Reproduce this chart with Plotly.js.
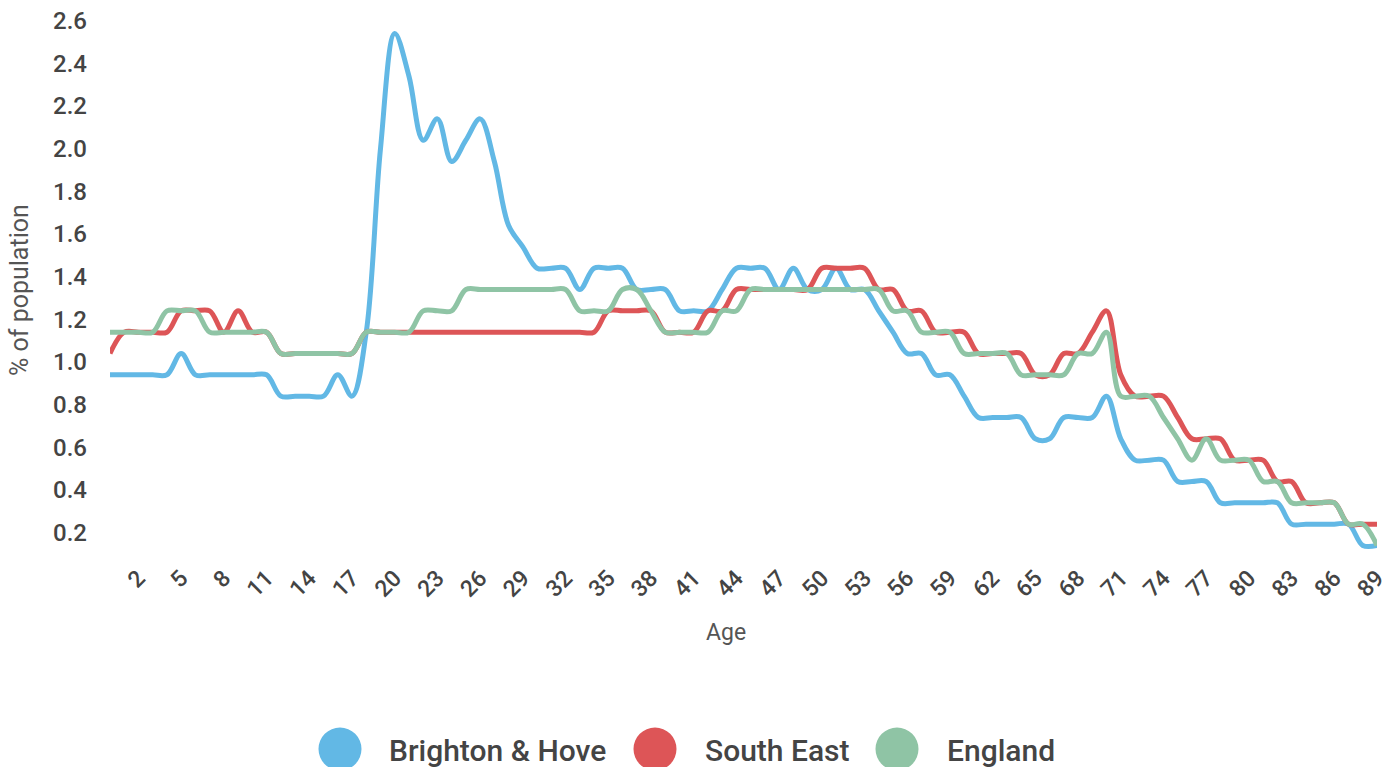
<!DOCTYPE html>
<html>
<head>
<meta charset="utf-8">
<script src="https://cdn.plot.ly/plotly-3.0.1.min.js"></script>
<style>
  html, body { margin: 0; padding: 0; background: #ffffff; }
  #chart { width: 1399px; height: 767px; }
</style>
</head>
<body>
<div id="chart"></div>
<script>
// Ages 0..89
const ages = Array.from({length: 90}, (_, i) => i);

const seriesNames = ["Brighton & Hove", "South East", "England"];
const seriesColors = ["#62b8e5", "#dd5557", "#8fc4a5"];

const brightonHove = [
  0.94, 0.94, 0.94, 0.94, 0.94, 1.04, 0.94, 0.94, 0.94, 0.94,
  0.94, 0.94, 0.84, 0.84, 0.84, 0.84, 0.94, 0.84, 1.14, 2.00,
  2.54, 2.34, 2.04, 2.14, 1.94, 2.04, 2.14, 1.94, 1.64, 1.54,
  1.44, 1.44, 1.44, 1.34, 1.44, 1.44, 1.44, 1.34, 1.34, 1.34,
  1.24, 1.24, 1.24, 1.34, 1.44, 1.44, 1.44, 1.34, 1.44, 1.34,
  1.34, 1.44, 1.34, 1.34, 1.24, 1.14, 1.04, 1.04, 0.94, 0.94,
  0.84, 0.74, 0.74, 0.74, 0.74, 0.64, 0.64, 0.74, 0.74, 0.74,
  0.84, 0.64, 0.54, 0.54, 0.54, 0.44, 0.44, 0.44, 0.34, 0.34,
  0.34, 0.34, 0.34, 0.24, 0.24, 0.24, 0.24, 0.24, 0.14, 0.14
];

const southEast = [
  1.04, 1.14, 1.14, 1.14, 1.14, 1.24, 1.24, 1.24, 1.14, 1.24,
  1.14, 1.14, 1.04, 1.04, 1.04, 1.04, 1.04, 1.04, 1.14, 1.14,
  1.14, 1.14, 1.14, 1.14, 1.14, 1.14, 1.14, 1.14, 1.14, 1.14,
  1.14, 1.14, 1.14, 1.14, 1.14, 1.24, 1.24, 1.24, 1.24, 1.14,
  1.14, 1.14, 1.24, 1.24, 1.34, 1.34, 1.34, 1.34, 1.34, 1.34,
  1.44, 1.44, 1.44, 1.44, 1.34, 1.34, 1.24, 1.24, 1.14, 1.14,
  1.14, 1.04, 1.04, 1.04, 1.04, 0.94, 0.94, 1.04, 1.04, 1.14,
  1.24, 0.94, 0.84, 0.84, 0.84, 0.74, 0.64, 0.64, 0.64, 0.54,
  0.54, 0.54, 0.44, 0.44, 0.34, 0.34, 0.34, 0.24, 0.24, 0.24
];

const england = [
  1.14, 1.14, 1.14, 1.14, 1.24, 1.24, 1.24, 1.14, 1.14, 1.14,
  1.14, 1.14, 1.04, 1.04, 1.04, 1.04, 1.04, 1.04, 1.14, 1.14,
  1.14, 1.14, 1.24, 1.24, 1.24, 1.34, 1.34, 1.34, 1.34, 1.34,
  1.34, 1.34, 1.34, 1.24, 1.24, 1.24, 1.34, 1.34, 1.24, 1.14,
  1.14, 1.14, 1.14, 1.24, 1.24, 1.34, 1.34, 1.34, 1.34, 1.34,
  1.34, 1.34, 1.34, 1.34, 1.34, 1.24, 1.24, 1.14, 1.14, 1.14,
  1.04, 1.04, 1.04, 1.04, 0.94, 0.94, 0.94, 0.94, 1.04, 1.04,
  1.14, 0.84, 0.84, 0.84, 0.74, 0.64, 0.54, 0.64, 0.54, 0.54,
  0.54, 0.44, 0.44, 0.34, 0.34, 0.34, 0.34, 0.24, 0.24, 0.14
];

const xTickVals = [2,5,8,11,14,17,20,23,26,29,32,35,38,41,44,47,50,53,56,59,62,65,68,71,74,77,80,83,86,89];
const yTickVals = [0.2,0.4,0.6,0.8,1.0,1.2,1.4,1.6,1.8,2.0,2.2,2.4,2.6];
const yTickText = yTickVals.map(v => v.toFixed(1));

const allSeries = [brightonHove, southEast, england];

const traces = allSeries.map((vals, i) => ({
  x: ages,
  y: vals,
  type: "scatter",
  mode: "lines",
  name: seriesNames[i],
  line: { color: seriesColors[i], width: 5, shape: "spline", smoothing: 1 },
  hoverinfo: "skip",
  showlegend: false
}));

// Custom legend (large circles + labels)
const W = 1399, H = 767;
const M = { l: 110, r: 22, t: 17, b: 213 };
const pw = W - M.l - M.r, ph = H - M.t - M.b;
const px2paper = px => (px - M.l) / pw;
const py2paper = py => (H - M.b - py) / ph;

const legendCircleX = [340, 655, 897];
const legendTextX = [387, 703, 945];
const legendY = 749;

const shapes = seriesNames.map((n, i) => ({
  type: "circle",
  xref: "paper", yref: "paper",
  xsizemode: "pixel", ysizemode: "pixel",
  xanchor: px2paper(legendCircleX[i]), yanchor: py2paper(legendY),
  x0: -21.5, x1: 21.5, y0: -21.5, y1: 21.5,
  fillcolor: seriesColors[i],
  line: { width: 0 }
}));

const annotations = seriesNames.map((n, i) => ({
  text: n,
  xref: "paper", yref: "paper",
  x: px2paper(legendTextX[i]), y: py2paper(legendY + 1),
  xanchor: "left", yanchor: "middle",
  showarrow: false,
  font: { family: "Roboto", size: 30, color: "#444444", weight: 500 }
}));

// axis titles placed as in the original
annotations.push({
  text: "Age",
  xref: "paper", yref: "paper",
  x: px2paper(726), y: py2paper(632),
  xanchor: "center", yanchor: "middle",
  showarrow: false,
  font: { family: "Roboto", size: 23, color: "#555555" }
});
annotations.push({
  text: "% of population",
  xref: "paper", yref: "paper",
  x: px2paper(19), y: py2paper(290),
  xanchor: "center", yanchor: "middle",
  textangle: -90,
  showarrow: false,
  font: { family: "Roboto", size: 25, color: "#555555" }
});

const layout = {
  width: W, height: H,
  margin: M,
  paper_bgcolor: "#ffffff",
  plot_bgcolor: "#ffffff",
  font: { family: "Roboto", color: "#444444" },
  showlegend: false,
  xaxis: {
    range: [0, 89],
    tickmode: "array",
    tickvals: xTickVals,
    ticktext: xTickVals.map(String),
    tickangle: -45,
    tickfont: { family: "Roboto", size: 23, color: "#444444", weight: 500 },
    showgrid: false, zeroline: false, showline: false,
    ticks: "",
    ticklabelstandoff: 5,
    automargin: false,
    fixedrange: true
  },
  yaxis: {
    range: [0.1, 0.1 + (H - M.b - M.t) / 213.3],
    tickmode: "array",
    tickvals: yTickVals,
    ticktext: yTickText,
    tickfont: { family: "Roboto", size: 24, color: "#444444", weight: 500 },
    showgrid: false, zeroline: false, showline: false,
    ticks: "",
    ticklabelstandoff: 22,
    automargin: false,
    fixedrange: true
  },
  shapes: shapes,
  annotations: annotations
};

Plotly.newPlot("chart", traces, layout, { staticPlot: true, displayModeBar: false });
</script>
</body>
</html>
